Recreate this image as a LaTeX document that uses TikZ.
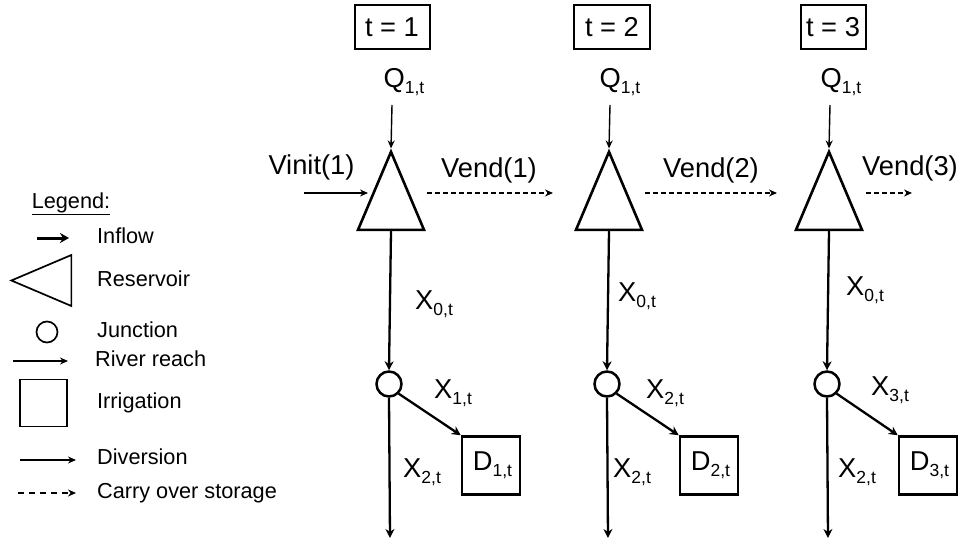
\documentclass[tikz,border=0pt]{standalone}
\usepackage{fontspec}
\setmainfont{Liberation Sans}
\usetikzlibrary{arrows.meta, shapes.geometric}

\newcommand{\biglbl}{\fontsize{27.3}{27.3}\selectfont}
\newcommand{\leglbl}{\fontsize{21.7}{21.7}\selectfont}
\newcommand{\sublbl}[2]{#1\raisebox{-6pt}{\fontsize{17.5}{17.5}\selectfont #2}}

\tikzset{
  lbl/.style={font=\biglbl, inner sep=0pt},
  leg/.style={font=\leglbl, inner sep=0pt, anchor=west},
  tribox/.style={draw, line width=2.6pt, isosceles triangle, isosceles triangle stretches,
    inner sep=0pt, minimum width=66pt, minimum height=78pt, shape border rotate=90},
  junc/.style={draw, line width=2.5pt, circle, inner sep=0pt, minimum size=25pt},
  dembox/.style={draw, line width=2.5pt, inner sep=0pt, minimum size=58pt, font=\biglbl},
  timebox/.style={draw, line width=2pt, inner sep=0pt, minimum height=44pt, font=\biglbl},
  reach/.style={line width=2.3pt, -{Stealth[length=9pt,width=9pt]}},
  thin arr/.style={line width=1.1pt, -{Stealth[length=8pt,width=7pt]}},
  carry/.style={line width=1.1pt, dash pattern=on 5pt off 3pt, -{Stealth[length=8pt,width=7pt]}}
}

\begin{document}
\begin{tikzpicture}[x=1pt, y=-1pt]
  \useasboundingbox (0,0) rectangle (962,543);

  % legend
  \node[font=\leglbl, inner sep=0pt] (legtitle) at (71,204) {\underline{Legend:}};
  \node[leg] (inflow) at (97,236) {Inflow};
  \node[leg] (reservoir) at (97,279) {Reservoir};
  \node[leg] (junction) at (97,330) {Junction};
  \node[leg] (river) at (95,359) {River reach};
  \node[leg] (irrigation) at (97,403) {Irrigation};
  \node[leg] (diversion) at (97,457) {Diversion};
  \node[leg] (carrylbl) at (97,493) {Carry over storage};

  \coordinate (i0) at (37,238);
  \coordinate (i1) at (69,238);
  \draw[line width=3pt, -{Stealth[length=9pt,width=10pt]}] (i0) -- (i1);
  \node[tribox, line width=1.7pt, minimum width=51pt, minimum height=60pt, shape border rotate=180] (legtri) at (54.5,280.5) {};
  \node[junc, line width=1.7pt, minimum size=21pt] (legjunc) at (47,332) {};
  \coordinate (r0) at (13,361);
  \coordinate (r1) at (68,361);
  \draw[line width=1.7pt, -{Stealth[length=8pt,width=7pt]}] (r0) -- (r1);
  \node[draw, line width=1.7pt, minimum size=47pt, inner sep=0pt] (legbox) at (43.5,403) {};
  \coordinate (d0) at (20,460);
  \coordinate (d1) at (76,460);
  \draw[thin arr, line width=1.4pt] (d0) -- (d1);
  \coordinate (c0) at (18,493);
  \coordinate (c1) at (76,493);
  \draw[carry, line width=1.4pt, dash pattern=on 6pt off 5pt] (c0) -- (c1);

  % one column per time step
  \foreach \t/\bx/\bw/\qx/\tx/\jx/\dx/\xz/\yz/\xo/\yo/\xt/\so/\es/\ee/\vx/\vy in {
    1/392/75/404/391/389/491/415/304/434/393/403/1/427/553/489/170,
    2/612/76/620/609/607/709/618/296/646/393/613/2/645/777/711/170,
    3/833/65/841/829/827/928/846/290/871/390/838/3/866/912/910/168} {
    \node[timebox, minimum width=\bw pt] (time\t) at (\bx,27) {t = \t};
    \node[lbl] (q\t) at (\qx,82) {\sublbl{Q}{1,t}};
    \node[tribox] (res\t) at (\tx,208) {};
    \node[junc] (jn\t) at (\jx,384) {};
    \node[dembox] (dem\t) at (\dx,465.5) {\hspace{3pt}\sublbl{D}{\t,t}};
    \coordinate (qs\t) at (\tx+1,105);
    \coordinate (out\t) at (\jx+1,538);
    \coordinate (v0\t) at (\es,193);
    \coordinate (v1\t) at (\ee,193);
    \draw[thin arr, line width=1.4pt] (qs\t) -- (res\t.apex);
    \draw[reach] (res\t.south) -- (jn\t.north);
    \draw[reach] (jn\t.south east) -- (dem\t.north west);
    \draw[reach] (jn\t.south) -- (out\t);
    \draw[carry] (v0\t) -- (v1\t);
    \node[lbl] (vend\t) at (\vx,\vy) {Vend(\t)};
    \node[lbl, anchor=west] (xz\t) at (\xz,\yz) {\sublbl{X}{0,t}};
    \node[lbl, anchor=west] (xo\t) at (\xo,\yo) {\sublbl{X}{\so,t}};
    \node[lbl, anchor=west] (xt\t) at (\xt,472) {\sublbl{X}{2,t}};
  }

  % initial storage
  \node[lbl] (vinit) at (311.5,167) {Vinit(1)};
  \coordinate (vi0) at (304,193);
  \coordinate (vi1) at (368,193);
  \draw[thin arr] (vi0) -- (vi1);
\end{tikzpicture}
\end{document}
